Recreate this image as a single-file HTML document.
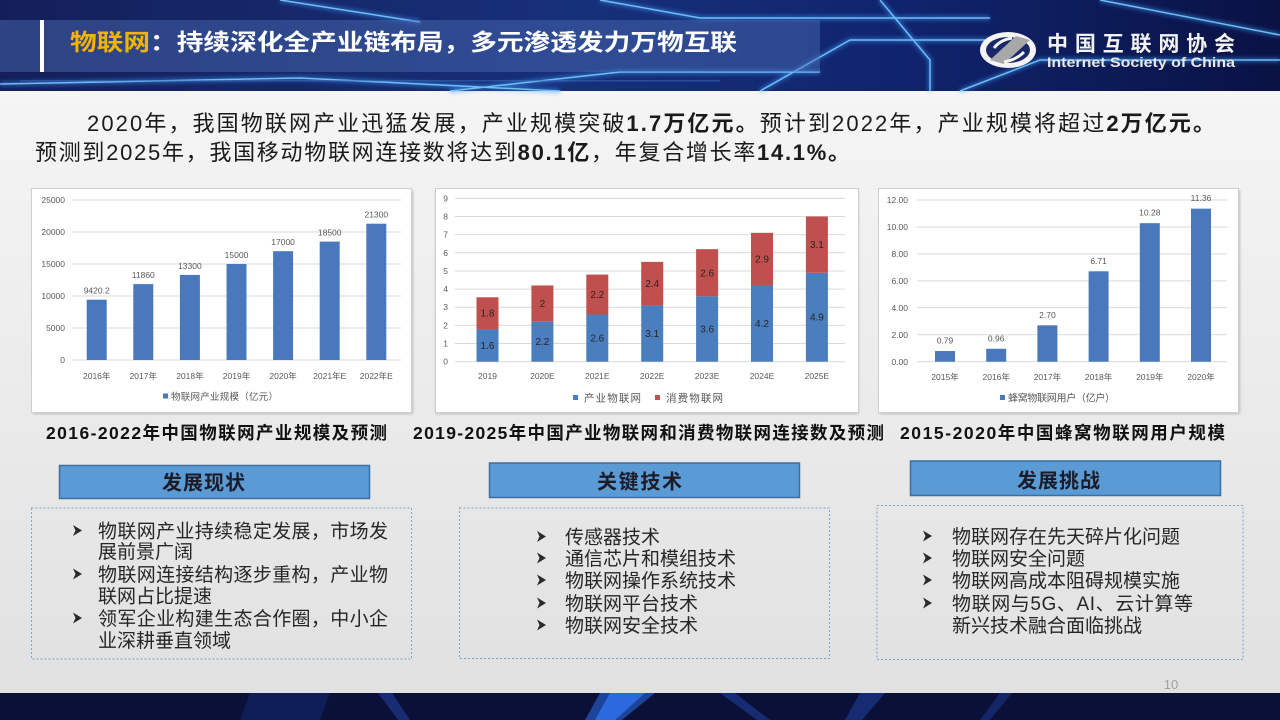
<!DOCTYPE html>
<html><head><meta charset="utf-8">
<style>
html,body{margin:0;padding:0;width:1280px;height:720px;overflow:hidden;background:#ececec}
svg{display:block}
text{font-family:"Liberation Sans","Noto Sans CJK SC",sans-serif}
</style></head><body>
<svg width="1280" height="720" viewBox="0 0 1280 720" xmlns="http://www.w3.org/2000/svg">
<defs>
<linearGradient id="bg" x1="0" y1="0" x2="0" y2="1"><stop offset="0" stop-color="#f8f8f8"/><stop offset="1" stop-color="#e0e0e0"/></linearGradient>
<linearGradient id="hd" x1="0" y1="0" x2="1" y2="0"><stop offset="0" stop-color="#141f5a"/><stop offset="0.45" stop-color="#17307a"/><stop offset="0.7" stop-color="#10246e"/><stop offset="1" stop-color="#0a1244"/></linearGradient>
<filter id="glow" x="-10%" y="-50%" width="120%" height="200%"><feGaussianBlur stdDeviation="2"/></filter>
<filter id="sh" x="-5%" y="-5%" width="110%" height="110%"><feGaussianBlur stdDeviation="1.2"/></filter>
</defs>
<rect width="1280" height="720" fill="url(#bg)"/>

<!-- HEADER -->
<rect x="0" y="0" width="1280" height="91" fill="url(#hd)"/>
<g stroke="#3d9cff" stroke-width="4" fill="none" opacity="0.55" filter="url(#glow)">
 <path d="M600 0 L700 18 L990 18"/>
 <path d="M880 0 L930 60 L930 91"/>
 <path d="M760 91 L850 40 L1000 40"/>
 <path d="M450 91 L620 72 L820 72"/>
 <path d="M0 84 L300 78 L560 91"/>
 <path d="M1100 0 L1280 35"/>
 <path d="M280 0 L420 22"/>
 <path d="M960 91 L1040 60 L1280 60"/>
</g>
<g stroke="#7fd0ff" stroke-width="1.5" fill="none" opacity="0.85">
 <path d="M600 0 L700 18 L990 18"/>
 <path d="M880 0 L930 60 L930 91"/>
 <path d="M760 91 L850 40 L1000 40"/>
 <path d="M450 91 L620 72 L820 72"/>
 <path d="M0 84 L300 78 L560 91"/>
 <path d="M1100 0 L1280 35"/>
 <path d="M280 0 L420 22"/>
 <path d="M960 91 L1040 60 L1280 60"/>
</g>
<g fill="#3b6fc0" opacity="0.5">
 <rect x="20" y="80" width="700" height="1.5" />
</g>
<rect x="0" y="20" width="820" height="52" fill="#4d6fb6" opacity="0.45"/>
<rect x="40" y="20" width="4" height="52" fill="#ffffff"/>
<text x="70" y="50" font-size="23" font-weight="bold" fill="#ffffff" textLength="667" lengthAdjust="spacingAndGlyphs"><tspan fill="#f2b400">物联网</tspan>：持续深化全产业链布局，多元渗透发力万物互联</text>

<!-- logo -->
<ellipse cx="1008" cy="50" rx="28" ry="18" fill="#f4f4f4"/>
<ellipse cx="1008" cy="50" rx="22" ry="13" fill="#1a2768"/>
<path d="M990 60 L1016 36 L1030 40 L1004 64 Z" fill="#a8a8a8"/>
<path d="M994 48 Q1000 40 1012 38" stroke="#f4f4f4" stroke-width="3" fill="none"/>
<path d="M1004 62 Q1016 60 1024 52" stroke="#f4f4f4" stroke-width="3" fill="none"/>
<text x="1047" y="51" font-size="21" font-weight="bold" fill="#f2f2f2" textLength="188">中国互联网协会</text>
<text x="1047" y="67" font-size="14" font-weight="bold" fill="#e8e8e8" textLength="188" lengthAdjust="spacingAndGlyphs">Internet Society of China</text>

<!-- PARAGRAPH -->
<text x="87" y="131" font-size="22" fill="#1a1a1a" textLength="1128">2020年，我国物联网产业迅猛发展，产业规模突破<tspan font-weight="bold">1.7万亿元。</tspan>预计到2022年，产业规模将超过<tspan font-weight="bold">2万亿元。</tspan></text>
<text x="35" y="160" font-size="22" fill="#1a1a1a" textLength="815">预测到2025年，我国移动物联网连接数将达到<tspan font-weight="bold">80.1亿</tspan>，年复合增长率<tspan font-weight="bold">14.1%。</tspan></text>

<!-- CHART PANELS -->
<rect x="33" y="190" width="380" height="224" fill="#bdbdbd" filter="url(#sh)"/>
<rect x="435.5" y="190" width="423" height="224" fill="#bdbdbd" filter="url(#sh)"/>
<rect x="880" y="190" width="360" height="224" fill="#bdbdbd" filter="url(#sh)"/>
<rect x="31.5" y="188.5" width="380" height="224" fill="#ffffff" stroke="#cfcfcf"/>
<rect x="435.5" y="188.5" width="423" height="224" fill="#ffffff" stroke="#cfcfcf"/>
<rect x="878.5" y="188.5" width="360" height="224" fill="#ffffff" stroke="#cfcfcf"/>

<!-- Chart 1 -->
<g stroke="#d9d9d9" stroke-width="1">
 <line x1="72" y1="200" x2="401" y2="200"/><line x1="72" y1="232" x2="401" y2="232"/>
 <line x1="72" y1="264" x2="401" y2="264"/><line x1="72" y1="296" x2="401" y2="296"/>
 <line x1="72" y1="328" x2="401" y2="328"/><line x1="72" y1="360" x2="401" y2="360"/>
</g>
<g font-size="8.5" fill="#595959" text-anchor="end">
 <text x="65" y="203">25000</text><text x="65" y="235">20000</text><text x="65" y="267">15000</text>
 <text x="65" y="299">10000</text><text x="65" y="331">5000</text><text x="65" y="363">0</text>
</g>
<g fill="#4a78bd">
 <rect x="86.7" y="299.7" width="20" height="60.3"/>
 <rect x="133.3" y="284.1" width="20" height="75.9"/>
 <rect x="179.9" y="274.9" width="20" height="85.1"/>
 <rect x="226.5" y="264" width="20" height="96"/>
 <rect x="273.1" y="251.2" width="20" height="108.8"/>
 <rect x="319.7" y="241.6" width="20" height="118.4"/>
 <rect x="366.3" y="223.7" width="20" height="136.3"/>
</g>
<g font-size="8.5" fill="#595959" text-anchor="middle">
 <text x="96.7" y="293.7">9420.2</text><text x="143.3" y="278.1">11860</text><text x="189.9" y="268.9">13300</text>
 <text x="236.5" y="258">15000</text><text x="283.1" y="245.2">17000</text><text x="329.7" y="235.6">18500</text>
 <text x="376.3" y="217.7">21300</text>
 <text x="96.7" y="379">2016年</text><text x="143.3" y="379">2017年</text><text x="189.9" y="379">2018年</text>
 <text x="236.5" y="379">2019年</text><text x="283.1" y="379">2020年</text><text x="329.7" y="379">2021年E</text>
 <text x="376.3" y="379">2022年E</text>
</g>
<rect x="163" y="393.5" width="5" height="5" fill="#4a78bd"/>
<text x="171" y="400" font-size="9.5" fill="#595959" textLength="107">物联网产业规模（亿元）</text>

<!-- Chart 2 -->
<g stroke="#d9d9d9" stroke-width="1">
 <line x1="455" y1="198.35" x2="845" y2="198.35"/><line x1="455" y1="216.5" x2="845" y2="216.5"/>
 <line x1="455" y1="234.65" x2="845" y2="234.65"/><line x1="455" y1="252.8" x2="845" y2="252.8"/>
 <line x1="455" y1="270.95" x2="845" y2="270.95"/><line x1="455" y1="289.1" x2="845" y2="289.1"/>
 <line x1="455" y1="307.25" x2="845" y2="307.25"/><line x1="455" y1="325.4" x2="845" y2="325.4"/>
 <line x1="455" y1="343.55" x2="845" y2="343.55"/><line x1="455" y1="361.7" x2="845" y2="361.7"/>
</g>
<g font-size="8.5" fill="#595959" text-anchor="end">
 <text x="448" y="201.3">9</text><text x="448" y="219.5">8</text><text x="448" y="237.6">7</text>
 <text x="448" y="255.8">6</text><text x="448" y="273.9">5</text><text x="448" y="292.1">4</text>
 <text x="448" y="310.2">3</text><text x="448" y="328.4">2</text><text x="448" y="346.5">1</text>
 <text x="448" y="364.7">0</text>
</g>
<g fill="#4a7ebe">
 <rect x="476.5" y="329.03" width="22" height="32.67"/>
 <rect x="531.4" y="321.77" width="22" height="39.93"/>
 <rect x="586.3" y="314.51" width="22" height="47.19"/>
 <rect x="641.2" y="305.43" width="22" height="56.27"/>
 <rect x="696.1" y="296.36" width="22" height="65.34"/>
 <rect x="751" y="285.47" width="22" height="76.23"/>
 <rect x="805.9" y="272.76" width="22" height="88.94"/>
</g>
<g fill="#c0504d">
 <rect x="476.5" y="297.27" width="22" height="31.76"/>
 <rect x="531.4" y="285.47" width="22" height="36.3"/>
 <rect x="586.3" y="274.58" width="22" height="39.93"/>
 <rect x="641.2" y="261.87" width="22" height="43.56"/>
 <rect x="696.1" y="249.17" width="22" height="47.19"/>
 <rect x="751" y="232.83" width="22" height="52.64"/>
 <rect x="805.9" y="216.49" width="22" height="56.27"/>
</g>
<g font-size="10" fill="#262626" text-anchor="middle">
 <text x="487.5" y="348.9">1.6</text><text x="487.5" y="316.7">1.8</text>
 <text x="542.4" y="345.2">2.2</text><text x="542.4" y="307.1">2</text>
 <text x="597.3" y="341.6">2.6</text><text x="597.3" y="298">2.2</text>
 <text x="652.2" y="337.1">3.1</text><text x="652.2" y="287.2">2.4</text>
 <text x="707.1" y="332.5">3.6</text><text x="707.1" y="276.3">2.6</text>
 <text x="762" y="327.1">4.2</text><text x="762" y="262.7">2.9</text>
 <text x="816.9" y="320.7">4.9</text><text x="816.9" y="248.1">3.1</text>
</g>
<g font-size="8.5" fill="#595959" text-anchor="middle">
 <text x="487.5" y="379">2019</text><text x="542.4" y="379">2020E</text><text x="597.3" y="379">2021E</text>
 <text x="652.2" y="379">2022E</text><text x="707.1" y="379">2023E</text><text x="762" y="379">2024E</text>
 <text x="816.9" y="379">2025E</text>
</g>
<rect x="573" y="395" width="5" height="5" fill="#4a7ebe"/>
<text x="584" y="401.5" font-size="10.5" fill="#595959" textLength="57">产业物联网</text>
<rect x="655" y="395" width="5" height="5" fill="#c0504d"/>
<text x="666" y="401.5" font-size="10.5" fill="#595959" textLength="57">消费物联网</text>

<!-- Chart 3 -->
<g stroke="#d9d9d9" stroke-width="1">
 <line x1="917" y1="200" x2="1227" y2="200"/><line x1="917" y1="226.95" x2="1227" y2="226.95"/>
 <line x1="917" y1="253.9" x2="1227" y2="253.9"/><line x1="917" y1="280.85" x2="1227" y2="280.85"/>
 <line x1="917" y1="307.8" x2="1227" y2="307.8"/><line x1="917" y1="334.75" x2="1227" y2="334.75"/>
 <line x1="917" y1="361.7" x2="1227" y2="361.7"/>
</g>
<g font-size="8.5" fill="#595959" text-anchor="end">
 <text x="908" y="203">12.00</text><text x="908" y="230">10.00</text><text x="908" y="257">8.00</text>
 <text x="908" y="284">6.00</text><text x="908" y="311">4.00</text><text x="908" y="338">2.00</text>
 <text x="908" y="365">0.00</text>
</g>
<g fill="#4a78bd">
 <rect x="935" y="351.05" width="20" height="10.65"/>
 <rect x="986.2" y="348.76" width="20" height="12.94"/>
 <rect x="1037.4" y="325.32" width="20" height="36.38"/>
 <rect x="1088.6" y="271.28" width="20" height="90.42"/>
 <rect x="1139.8" y="223.18" width="20" height="138.52"/>
 <rect x="1191" y="208.63" width="20" height="153.07"/>
</g>
<g font-size="8.5" fill="#595959" text-anchor="middle">
 <text x="945" y="343.5">0.79</text><text x="996.2" y="341.3">0.96</text><text x="1047.4" y="317.8">2.70</text>
 <text x="1098.6" y="263.8">6.71</text><text x="1149.8" y="215.7">10.28</text><text x="1201" y="201.1">11.36</text>
 <text x="945" y="380">2015年</text><text x="996.2" y="380">2016年</text><text x="1047.4" y="380">2017年</text>
 <text x="1098.6" y="380">2018年</text><text x="1149.8" y="380">2019年</text><text x="1201" y="380">2020年</text>
</g>
<rect x="1000" y="395" width="5" height="5" fill="#4a78bd"/>
<text x="1008" y="401.5" font-size="10" fill="#595959" textLength="107">蜂窝物联网用户（亿户）</text>

<!-- CHART TITLES -->
<g font-size="17.5" font-weight="bold" fill="#111111">
 <text x="46" y="439" textLength="341">2016-2022年中国物联网产业规模及预测</text>
 <text x="413" y="439" textLength="471">2019-2025年中国产业物联网和消费物联网连接数及预测</text>
 <text x="900" y="439" textLength="325">2015-2020年中国蜂窝物联网用户规模</text>
</g>

<!-- SECTION HEADERS -->
<rect x="59.5" y="465.5" width="310" height="33" fill="#5b9bd5" stroke="#3c6e9f" stroke-width="1.5"/>
<rect x="489.5" y="463" width="310" height="34.5" fill="#5b9bd5" stroke="#3c6e9f" stroke-width="1.5"/>
<rect x="910.5" y="461" width="310" height="34.5" fill="#5b9bd5" stroke="#3c6e9f" stroke-width="1.5"/>
<g font-size="20" font-weight="bold" fill="#1c1c28">
 <text x="162" y="489.5" textLength="83">发展现状</text>
 <text x="597" y="488.5" textLength="85">关键技术</text>
 <text x="1017" y="487.5" textLength="83">发展挑战</text>
</g>

<!-- DASHED BOXES -->
<g fill="none" stroke="#7fa3c9" stroke-width="1" stroke-dasharray="2,2">
 <rect x="31.5" y="508" width="380" height="151"/>
 <rect x="459.5" y="508" width="370" height="150.5"/>
 <rect x="877" y="505.5" width="366" height="154"/>
</g>

<!-- arrows -->
<g fill="#2a2a2a">
 <path d="M73 525 L82 530.5 L73 536 L75.5 530.5 Z"/>
 <path d="M73 568.5 L82 574 L73 579.5 L75.5 574 Z"/>
 <path d="M73 612.5 L82 618 L73 623.5 L75.5 618 Z"/>
 <path d="M537 531 L546 536.5 L537 542 L539.5 536.5 Z"/>
 <path d="M537 552.5 L546 558 L537 563.5 L539.5 558 Z"/>
 <path d="M537 574.5 L546 580 L537 585.5 L539.5 580 Z"/>
 <path d="M537 597.5 L546 603 L537 608.5 L539.5 603 Z"/>
 <path d="M537 619.5 L546 625 L537 630.5 L539.5 625 Z"/>
 <path d="M923 530.5 L932 536 L923 541.5 L925.5 536 Z"/>
 <path d="M923 552.5 L932 558 L923 563.5 L925.5 558 Z"/>
 <path d="M923 574.5 L932 580 L923 585.5 L925.5 580 Z"/>
 <path d="M923 597.5 L932 603 L923 608.5 L925.5 603 Z"/>
</g>
<g font-size="19" fill="#262626">
 <text x="98" y="537.5" textLength="290">物联网产业持续稳定发展，市场发</text>
 <text x="98" y="558">展前景广阔</text>
 <text x="98" y="581" textLength="290">物联网连接结构逐步重构，产业物</text>
 <text x="98" y="602.5">联网占比提速</text>
 <text x="98" y="625" textLength="290">领军企业构建生态合作圈，中小企</text>
 <text x="98" y="647">业深耕垂直领域</text>

 <text x="565" y="543.5">传感器技术</text>
 <text x="565" y="565">通信芯片和模组技术</text>
 <text x="565" y="587">物联网操作系统技术</text>
 <text x="565" y="610">物联网平台技术</text>
 <text x="565" y="632">物联网安全技术</text>

 <text x="952" y="543">物联网存在先天碎片化问题</text>
 <text x="952" y="565">物联网安全问题</text>
 <text x="952" y="587">物联网高成本阻碍规模实施</text>
 <text x="952" y="610" textLength="241">物联网与5G、AI、云计算等</text>
 <text x="952" y="632">新兴技术融合面临挑战</text>
</g>

<!-- page number -->
<text x="1171" y="689" font-size="13" fill="#a0a0a0" text-anchor="middle">10</text>

<!-- FOOTER -->
<rect x="0" y="693" width="1280" height="27" fill="#0a1038"/>
<g opacity="0.6">
 <polygon points="600,693 655,693 622,720 585,720" fill="#2b66dc"/>
 <polygon points="378,693 392,693 410,720 398,720" fill="#1f3f9a"/>
 <polygon points="720,693 735,693 770,720 757,720" fill="#1f3f9a"/>
 <polygon points="860,693 885,693 862,720 845,720" fill="#1f3f9a"/>
 <polygon points="1000,693 1012,693 990,720 980,720" fill="#1b3585"/>
 <polygon points="250,693 330,693 320,720 240,720" fill="#13286a"/>
</g>
<polygon points="610,693 645,693 615,720 595,720" fill="#2f6ee6" opacity="0.9"/>
</svg>
</body></html>
